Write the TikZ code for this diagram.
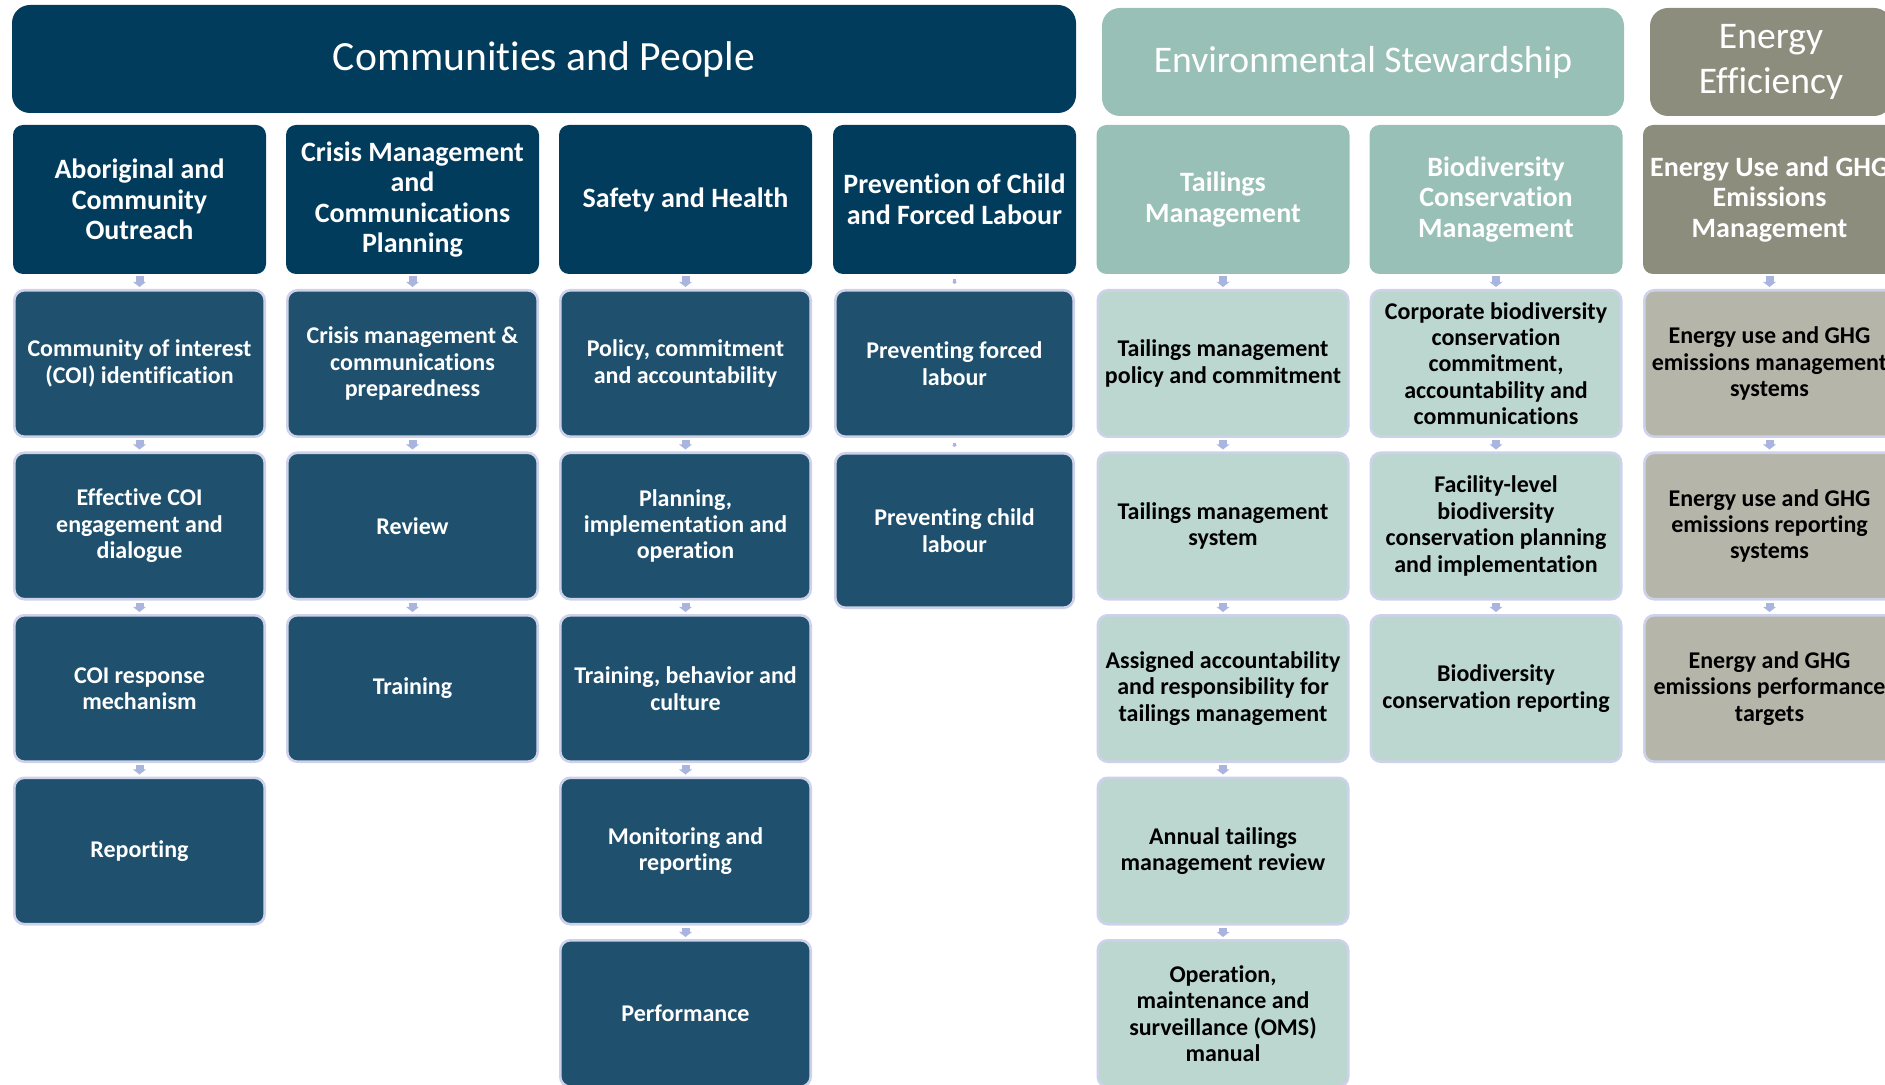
\documentclass[tikz,border=0pt]{standalone}
\usepackage{fontspec}
\setmainfont{Carlito}[Ligatures=NoCommon]
\usetikzlibrary{arrows.meta}
\definecolor{navy}{HTML}{023C5D}
\definecolor{navyc}{HTML}{1F516E}
\definecolor{esdark}{HTML}{99C0B6}
\definecolor{eslight}{HTML}{BCD7D0}
\definecolor{eedark}{HTML}{8D8D7E}
\definecolor{eelight}{HTML}{B5B5A9}
\definecolor{lavb}{HTML}{CDD2EA}
\definecolor{arrowc}{HTML}{A9B5DE}
\newcommand\banFontA{\fontsize{20.8}{24}\selectfont}
\newcommand\banFontB{\fontsize{18.8}{22.2}\selectfont}
\newcommand\hdFont{\bfseries\fontsize{14}{15.25}\selectfont}
\newcommand\chFont{\bfseries\fontsize{12}{13.2}\selectfont}
\begin{document}
\begin{tikzpicture}[x=0.5pt,y=-0.5pt,
  banner/.style={rectangle,rounded corners=9pt,align=center,inner sep=0pt,minimum height=54pt,text=white,font=\banFontB},
  head/.style={rectangle,rounded corners=5pt,align=center,inner sep=0pt,minimum width=126.5pt,minimum height=74.5pt,text=white,font=\hdFont},
  child/.style={rectangle,rounded corners=5pt,align=center,inner sep=0pt,minimum width=125.2pt,minimum height=73.2pt,draw=lavb,line width=1.3pt,font=\chFont},
  cphead/.style={head,fill=navy},
  eshead/.style={head,fill=esdark},
  eehead/.style={head,fill=eedark},
  cpchild/.style={child,fill=navyc,text=white},
  eschild/.style={child,fill=eslight,text=black},
  eechild/.style={child,fill=eelight,text=black},
  flow/.style={draw=arrowc,line width=4pt,shorten <=1pt,shorten >=1pt,-{Triangle[width=6.5pt,length=2.6pt]}},
  tinyflow/.style={draw=arrowc,line width=1.4pt,shorten <=2.4pt,shorten >=2.4pt,-{Triangle[width=2.4pt,length=1.2pt]}}
]
\useasboundingbox (0,0) rectangle (1885,1085);
\clip (0,0) rectangle (1885,1085);

% banners
\node[banner,fill=navy,minimum width=532pt,font=\banFontA] (bcp) at (544,59) {Communities and People};
\node[banner,fill=esdark,minimum width=261pt] (bes) at (1363,62) {Environmental Stewardship};
\node[banner,fill=eedark,minimum width=121pt] (bee) at (1771,62) {Energy\\Efficiency};

% headers
\node[cphead] (h1) at (139.5,199.5) {Aboriginal and\\Community\\Outreach};
\node[cphead] (h2) at (412.5,199.5) {Crisis Management\\and\\Communications\\Planning};
\node[cphead] (h3) at (685.5,199.5) {Safety and Health};
\node[cphead,minimum width=121.5pt] (h4) at (954.5,199.5) {Prevention of Child\\and Forced Labour};
\node[eshead] (h5) at (1223,199.5) {Tailings\\Management};
\node[eshead] (h6) at (1496,199.5) {Biodiversity\\Conservation\\Management};
\node[eehead] (h7) at (1769.5,199.5) {Energy Use and GHG\\Emissions\\Management};

% column 1
\node[cpchild] (a1) at (139.5,363.5) {Community of interest\\(COI) identification};
\node[cpchild] (a2) at (139.5,526) {Effective COI\\engagement and\\dialogue};
\node[cpchild] (a3) at (139.5,688.5) {COI response\\mechanism};
\node[cpchild] (a4) at (139.5,851) {Reporting};

% column 2
\node[cpchild] (b1) at (412.5,363.5) {Crisis management \&\\communications\\preparedness};
\node[cpchild] (b2) at (412.5,526) {Review};
\node[cpchild] (b3) at (412.5,688.5) {Training};

% column 3
\node[cpchild] (c1) at (685.5,363.5) {Policy, commitment\\and accountability};
\node[cpchild] (c2) at (685.5,526) {Planning,\\implementation and\\operation};
\node[cpchild] (c3) at (685.5,688.5) {Training, behavior and\\culture};
\node[cpchild] (c4) at (685.5,851) {Monitoring and\\reporting};
\node[cpchild] (c5) at (685.5,1013.5) {Performance};

% column 4
\node[cpchild,minimum width=119.2pt] (d1) at (954.5,363.5) {Preventing forced\\labour};
\node[cpchild,minimum width=119.2pt,minimum height=77.2pt] (d2) at (954.5,530.5) {Preventing child\\labour};

% column 5
\node[eschild] (e1) at (1223,363.5) {Tailings management\\policy and commitment};
\node[eschild] (e2) at (1223,526) {Tailings management\\system};
\node[eschild] (e3) at (1223,688.5) {Assigned accountability\\and responsibility for\\tailings management};
\node[eschild] (e4) at (1223,851) {Annual tailings\\management review};
\node[eschild] (e5) at (1223,1013.5) {Operation,\\maintenance and\\surveillance (OMS)\\manual};

% column 6
\node[eschild] (f1) at (1496,363.5) {Corporate biodiversity\\conservation\\commitment,\\accountability and\\communications};
\node[eschild] (f2) at (1496,526) {Facility-level\\biodiversity\\conservation planning\\and implementation};
\node[eschild] (f3) at (1496,688.5) {Biodiversity\\conservation reporting};

% column 7
\node[eechild] (g1) at (1769.5,363.5) {Energy use and GHG\\emissions management\\systems};
\node[eechild] (g2) at (1769.5,526) {Energy use and GHG\\emissions reporting\\systems};
\node[eechild] (g3) at (1769.5,688.5) {Energy and GHG\\emissions performance\\targets};

% connectors
\draw[flow] (h1) -- (a1); \draw[flow] (a1) -- (a2); \draw[flow] (a2) -- (a3); \draw[flow] (a3) -- (a4);
\draw[flow] (h2) -- (b1); \draw[flow] (b1) -- (b2); \draw[flow] (b2) -- (b3);
\draw[flow] (h3) -- (c1); \draw[flow] (c1) -- (c2); \draw[flow] (c2) -- (c3); \draw[flow] (c3) -- (c4); \draw[flow] (c4) -- (c5);
\draw[tinyflow] (h4) -- (d1); \draw[tinyflow] (d1) -- (d2);
\draw[flow] (h5) -- (e1); \draw[flow] (e1) -- (e2); \draw[flow] (e2) -- (e3); \draw[flow] (e3) -- (e4); \draw[flow] (e4) -- (e5);
\draw[flow] (h6) -- (f1); \draw[flow] (f1) -- (f2); \draw[flow] (f2) -- (f3);
\draw[flow] (h7) -- (g1); \draw[flow] (g1) -- (g2); \draw[flow] (g2) -- (g3);
\end{tikzpicture}
\end{document}
